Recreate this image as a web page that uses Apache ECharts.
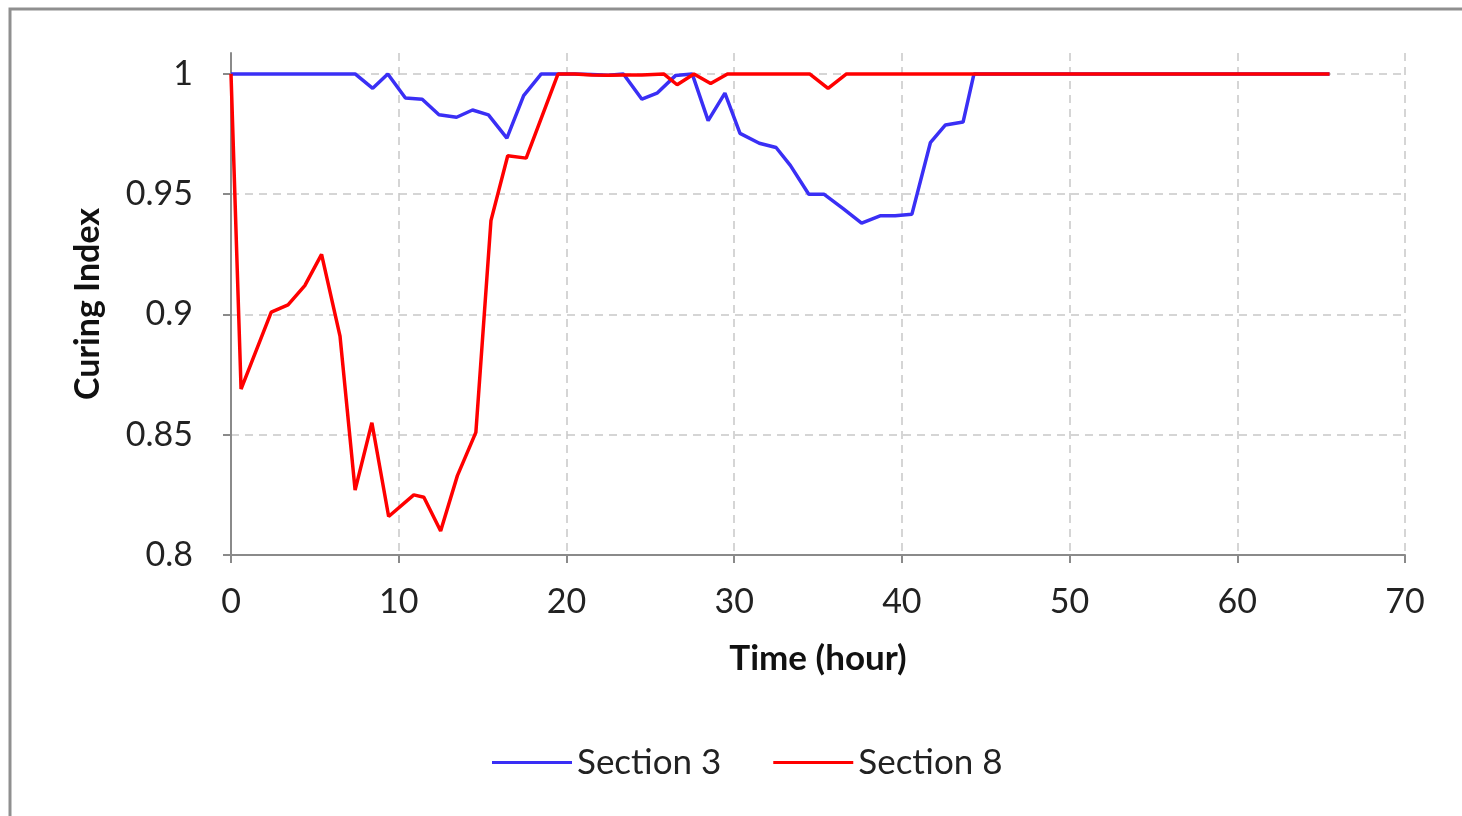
<!DOCTYPE html>
<html>
<head>
<meta charset="utf-8">
<script src="https://cdn.jsdelivr.net/npm/echarts@6/dist/echarts.min.js"></script>
<style>
html,body{margin:0;padding:0;background:#fff;}
#chart{width:1462px;height:816px;}
</style>
</head>
<body>
<div id="chart"></div>
<script>
// Data
const seriesNames = ["Section 3", "Section 8"];
const xTickLabels = ["0","10","20","30","40","50","60","70"];
const yTickLabels = ["0.8","0.85","0.9","0.95","1"];

const sec3Time = [0,1,2,3,4,5,6,7.4,8.45,9.35,10.4,11.4,12.4,13.45,14.4,15.35,16.45,17.45,18.5,19.5,20.5,21.5,22.5,23.4,24.5,25.4,26.5,27.5,28.45,29.45,30.35,31.5,32.5,33.35,34.45,35.35,36.5,37.6,38.7,39.6,40.6,41.7,42.6,43.65,44.3,45.5,50,55,60,65.5];
const sec3Index = [1,1,1,1,1,1,1,1,0.994,1,0.990,0.9895,0.983,0.982,0.985,0.983,0.9733,0.991,1,1,1,0.9998,0.9995,1,0.9895,0.992,0.9993,1,0.9806,0.992,0.9753,0.9712,0.9694,0.962,0.950,0.950,0.944,0.938,0.941,0.941,0.9417,0.9714,0.9788,0.980,1,1,1,1,1,1];

const sec8Time = [0,0.6,2.4,3.4,4.4,5.4,6.5,7.4,8.4,9.4,10.9,11.5,12.5,13.5,14.6,15.5,16.5,17.6,19.5,20.5,21.5,22.5,23.5,24.5,25.8,26.6,27.6,28.6,29.6,30.5,31.5,32.5,33.5,34.5,35.6,36.7,40,45,50,55,60,65.5];
const sec8Index = [1,0.869,0.901,0.904,0.912,0.925,0.891,0.827,0.855,0.816,0.825,0.824,0.810,0.833,0.851,0.939,0.966,0.965,1,1,0.9996,0.9995,0.9996,0.9996,1,0.9955,1,0.996,1,1,1,1,1,1,0.994,1,1,1,1,1,1,1];

const toPairs = (xs, ys) => xs.map((x, i) => [x, ys[i]]);

const font = "Lato, 'Open Sans', sans-serif";
const chart = echarts.init(document.getElementById('chart'));
chart.setOption({
  animation: false,
  backgroundColor: '#fff',
  graphic: [{
    type: 'rect',
    shape: {x: 10, y: 9, width: 1500, height: 900},
    style: {fill: 'none', stroke: '#8f8f8f', lineWidth: 3},
    silent: true
  }],
  grid: {left: 231, right: 57, top: 53, bottom: 261, containLabel: false},
  legend: {
    data: seriesNames,
    top: 740,
    left: 487,
    itemWidth: 80,
    itemHeight: 3,
    itemGap: 52,
    icon: 'rect',
    textStyle: {fontFamily: font, fontSize: 35, color: '#222'}
  },
  xAxis: {
    type: 'value',
    min: 0, max: 70, interval: 10,
    name: 'Time (hour)',
    nameLocation: 'middle',
    nameGap: 86,
    nameTextStyle: {fontFamily: font, fontSize: 35, fontWeight: 'bold', color: '#111'},
    axisLine: {show: true, lineStyle: {color: '#8a8a8a', width: 2}},
    axisTick: {show: true, length: 8, lineStyle: {color: '#8a8a8a', width: 2}},
    axisLabel: {fontFamily: font, fontSize: 34, color: '#222', margin: 30,
      formatter: v => xTickLabels[Math.round(v / 10)] ?? ''},
    splitLine: {show: true, showMinLine: false, lineStyle: {color: '#c8c8c8', type: [8, 6], width: 1.5}}
  },
  yAxis: {
    type: 'value',
    min: 0.8, max: 1.0087, interval: 0.05,
    name: 'Curing Index',
    nameLocation: 'middle',
    nameGap: 126,
    nameTextStyle: {fontFamily: font, fontSize: 34, fontWeight: 'bold', color: '#111'},
    axisLine: {show: true, lineStyle: {color: '#8a8a8a', width: 2}},
    axisTick: {show: true, length: 8, lineStyle: {color: '#8a8a8a', width: 2}},
    axisLabel: {fontFamily: font, fontSize: 34, color: '#222', margin: 38, showMaxLabel: false,
      formatter: v => { const i = Math.round((v - 0.8) / 0.05); return (Math.abs(v - (0.8 + i*0.05)) < 1e-6) ? (yTickLabels[i] ?? '') : ''; }},
    splitLine: {show: true, showMinLine: false, showMaxLine: false, lineStyle: {color: '#c8c8c8', type: [8, 6], width: 1.5}}
  },
  series: [
    {name: seriesNames[0], type: 'line', data: toPairs(sec3Time, sec3Index), showSymbol: false, symbol: 'none',
      lineStyle: {color: '#3a2ff5', width: 3.5}, itemStyle: {color: '#3a2ff5'}, z: 2},
    {name: seriesNames[1], type: 'line', data: toPairs(sec8Time, sec8Index), showSymbol: false, symbol: 'none',
      lineStyle: {color: '#ff0000', width: 3.5}, itemStyle: {color: '#ff0000'}, z: 3}
  ]
});
</script>
</body>
</html>
